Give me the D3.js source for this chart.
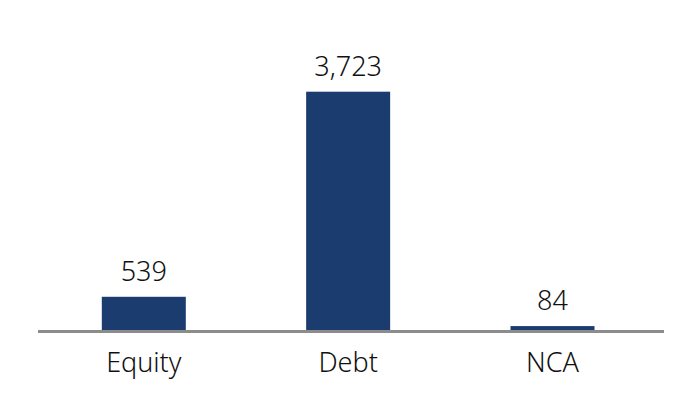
<!DOCTYPE html>
<html><head><meta charset="utf-8">
<script src="https://cdn.jsdelivr.net/npm/d3@7/dist/d3.min.js"></script>
<style>body{margin:0;background:#fff}svg{display:block}</style>
</head><body>
<script>
const categories = ["Equity", "Debt", "NCA"];
const values = [539, 3723, 84];

const W = 695, H = 410;
const svg = d3.select("body").append("svg").attr("width", W).attr("height", H);
const font = "'Noto Sans', sans-serif";

const x = d3.scaleBand().domain(categories).range([40.5, 655.8]).paddingInner(0.589).paddingOuter(0.3);
const y = d3.scaleLinear().domain([0, 3723]).range([331.5, 91.7]);

svg.selectAll("rect.bar").data(categories).join("rect")
  .attr("class", "bar")
  .attr("x", d => x(d))
  .attr("width", x.bandwidth())
  .attr("y", (d, i) => y(values[i]))
  .attr("height", (d, i) => y(0) - y(values[i]))
  .attr("fill", "#1a3c6e");

svg.selectAll("text.val").data(categories).join("text")
  .attr("class", "val")
  .attr("x", d => x(d) + x.bandwidth() / 2)
  .attr("y", (d, i) => y(values[i]) - 16)
  .attr("text-anchor", "middle")
  .attr("font-family", font).attr("font-size", 27).attr("font-weight", 350).attr("fill", "#111")
  .text((d, i) => d3.format(",")(values[i]));

const axis = svg.append("g").attr("transform", `translate(0,${y(0)})`)
  .call(d3.axisBottom(x).tickSize(0).tickPadding(21));
axis.select(".domain").attr("stroke", "#8c8c8c").attr("stroke-width", 3)
  .attr("d", "M38,0H664");
axis.selectAll("text").attr("font-family", font).attr("font-size", 27).attr("font-weight", 350).attr("fill", "#111")
  .attr("dy", "0.71em");
</script>
</body></html>
